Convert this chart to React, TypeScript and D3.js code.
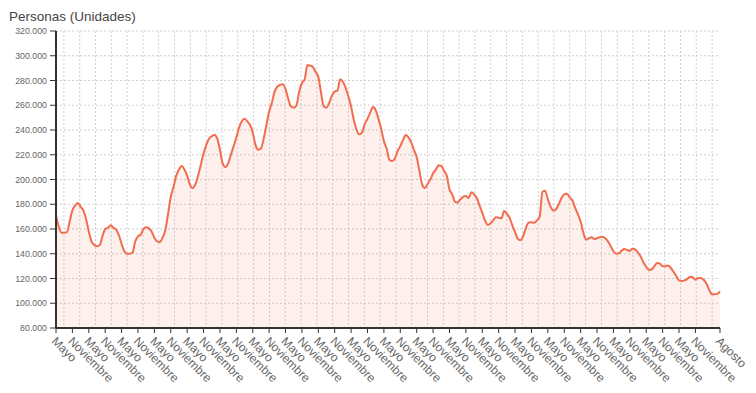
import React, { useEffect, useRef } from "react";
import * as d3 from "d3";

// Personas, mensual, desde mayo hasta agosto (244 meses)
const personas: number[] = [
  171000, 162000, 157000, 157000, 157500, 166000, 175000, 179000, 181000, 178000,
  175000, 168000, 158000, 150000, 147000, 146000, 147000, 154000, 160000, 161000,
  163000, 161000, 159500, 155000, 148000, 142000, 140000, 140000, 141000, 150000,
  154000, 155500, 160000, 161500, 160500, 158000, 153000, 150000, 149500, 153000,
  159000, 172000, 186000, 194000, 203000, 208000, 211000, 208000, 203000, 196000,
  193000, 196000, 203000, 212000, 221000, 228000, 233000, 235000, 236000, 233000,
  224000, 213000, 210000, 213000, 220000, 227000, 234000, 242000, 247000, 249000,
  247000, 244000, 238000, 228000, 224000, 225000, 233000, 244000, 255000, 262000,
  271000, 275000, 276500, 277000, 273000, 265000, 259000, 258000, 260000, 271000,
  278000, 281000, 292500, 292000, 291000, 287000, 283000, 270000, 259000, 258000,
  262000, 268000, 271000, 272000, 281000, 279000, 274000, 267000, 259000, 248000,
  240000, 236500, 238000, 245000, 249000, 254000, 258500, 256000, 249000, 241000,
  231000, 225000, 216000, 215000, 217000, 223000, 227000, 232000, 236000, 234000,
  230000, 224000, 218000, 207000, 196000, 193000, 196500, 200000, 205000, 208000,
  211500, 211000, 207000, 203000, 192000, 188000, 182000, 181500, 184000, 186000,
  186700, 185000, 189600, 188000, 185000, 179000, 173000, 167000, 163300, 164600,
  167000, 169400, 169200, 168600, 174500, 172500, 169000, 163000, 157500, 152000,
  151000, 154500, 161000, 165200, 165400, 165000, 167000, 170000, 190000, 191000,
  184000, 178000, 175000, 176000, 180000, 185000, 188000, 188500, 185500, 183000,
  177000, 172000, 166000, 157000, 151500, 152500, 153300, 152000, 152500, 153300,
  153800, 152500, 150000, 146000, 142000, 140000, 140300, 142500, 143800, 143000,
  142500, 144000, 143500, 141000, 137600, 133000, 129500, 127000, 127500, 130000,
  132500, 132000, 130000, 130000, 130500, 128500, 125500, 122000, 118500, 118000,
  118500, 119500, 121500, 121000, 119000, 120500, 120500, 119000, 116000, 111000,
  107300, 107300, 107600, 109500,
];

const monthNames = [
  "Enero", "Febrero", "Marzo", "Abril", "Mayo", "Junio",
  "Julio", "Agosto", "Septiembre", "Octubre", "Noviembre", "Diciembre",
];
const startMonth = 4; // Mayo
const yTicks = [80000, 100000, 120000, 140000, 160000, 180000, 200000, 220000, 240000, 260000, 280000, 300000, 320000];
const title = "Personas (Unidades)";

const W = 756, H = 393;
const margin = { top: 31, right: 36, bottom: 65, left: 56 };

export default function App() {
  const ref = useRef<SVGSVGElement>(null);

  useEffect(() => {
    const svg = d3.select(ref.current);
    svg.selectAll("*").remove();

    const width = W - margin.left - margin.right;
    const height = H - margin.top - margin.bottom;
    const labels = personas.map((_, i) => monthNames[(startMonth + i) % 12]);

    const x = d3.scaleLinear().domain([0, personas.length - 1]).range([0, width]);
    const y = d3.scaleLinear().domain([80000, 320000]).range([height, 0]);

    const es = d3.formatLocale({ decimal: ",", thousands: ".", grouping: [3], currency: ["", "€"] });
    const fmt = es.format(",d");

    // etiquetas cada 6 meses; la de mayo final se salta por estar junto a la última
    const allTicks = d3.range(0, personas.length, 6);
    allTicks.push(personas.length - 1);
    const tickIdx = allTicks.filter((d, i) => !(i === allTicks.length - 2 && personas.length - 1 - d < 6));

    // líneas verticales de la rejilla (centradas en bandas, una por tick sin saltar)
    const gridX = d3.scaleBand<number>().domain(allTicks).range([0, width]);

    svg.append("text")
      .attr("x", 9).attr("y", 21)
      .attr("font-family", "Liberation Sans, Arial, sans-serif")
      .attr("font-size", 13.5)
      .attr("fill", "#444")
      .text(title);

    const g = svg.append("g").attr("transform", `translate(${margin.left},${margin.top})`);

    // grid
    g.append("g").selectAll("line").data(yTicks).join("line")
      .attr("x1", 0).attr("x2", width)
      .attr("y1", (d) => y(d)).attr("y2", (d) => y(d))
      .attr("stroke", "#cfcfcf").attr("stroke-dasharray", "2,2");
    g.append("g").selectAll("line").data(allTicks).join("line")
      .attr("x1", (d) => gridX(d)! + gridX.bandwidth() / 2)
      .attr("x2", (d) => gridX(d)! + gridX.bandwidth() / 2)
      .attr("y1", 0).attr("y2", height)
      .attr("stroke", "#cfcfcf").attr("stroke-dasharray", "2,2");

    const area = d3.area<number>()
      .x((_, i) => x(i)).y0(height).y1((d) => y(d))
      .curve(d3.curveMonotoneX);
    const line = d3.line<number>()
      .x((_, i) => x(i)).y((d) => y(d))
      .curve(d3.curveMonotoneX);

    g.append("path").datum(personas)
      .attr("fill", "rgba(242,108,79,0.1)")
      .attr("d", area);
    g.append("path").datum(personas)
      .attr("fill", "none")
      .attr("stroke", "#f26c4f")
      .attr("stroke-width", 2)
      .attr("stroke-linejoin", "round")
      .attr("d", line);

    // y axis
    const ya = g.append("g");
    ya.append("line").attr("x1", 0).attr("x2", 0).attr("y1", 0).attr("y2", height)
      .attr("stroke", "#333").attr("stroke-width", 2);
    ya.selectAll("line.t").data(yTicks).join("line").attr("class", "t")
      .attr("x1", -6).attr("x2", 0).attr("y1", (d) => y(d)).attr("y2", (d) => y(d))
      .attr("stroke", "#333");
    ya.selectAll("text").data(yTicks).join("text")
      .attr("x", -9).attr("y", (d) => y(d)).attr("dy", "0.35em")
      .attr("text-anchor", "end")
      .attr("font-family", "Liberation Sans, Arial, sans-serif")
      .attr("font-size", 8.8).attr("fill", "#666")
      .text((d) => fmt(d));

    // x axis
    const xa = g.append("g").attr("transform", `translate(0,${height})`);
    xa.append("line").attr("x1", 0).attr("x2", width).attr("y1", 0).attr("y2", 0)
      .attr("stroke", "#333").attr("stroke-width", 2);
    xa.selectAll("line.t").data(tickIdx).join("line").attr("class", "t")
      .attr("x1", (d) => x(d)).attr("x2", (d) => x(d)).attr("y1", 0).attr("y2", 5)
      .attr("stroke", "#333");
    xa.selectAll("text").data(tickIdx).join("text")
      .attr("transform", (d) => `translate(${x(d) - 2},${11}) rotate(45)`)
      .attr("dy", "0.35em")
      .attr("text-anchor", "start")
      .attr("font-family", "Liberation Sans, Arial, sans-serif")
      .attr("font-size", 12).attr("fill", "#666")
      .text((d) => labels[d]);
  }, []);

  return (
    <svg ref={ref} width={W} height={H}
      style={{ position: "absolute", left: 0, top: 0, background: "#fff" }} />
  );
}
